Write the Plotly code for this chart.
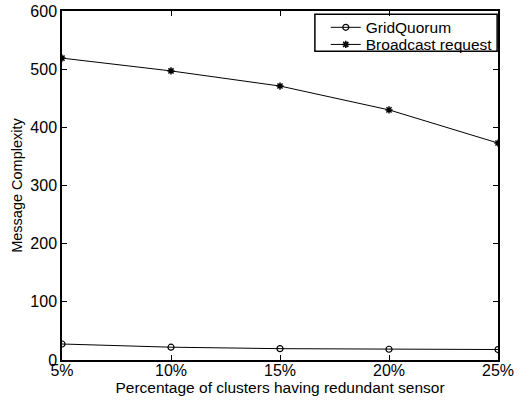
import plotly.graph_objects as go

x_vals = [5, 10, 15, 20, 25]
x_labels = ["5%", "10%", "15%", "20%", "25%"]
grid_quorum = [27.5, 22, 19.5, 18.5, 18]
broadcast = [519, 497, 471, 430, 373]
y_ticks = [0, 100, 200, 300, 400, 500, 600]

FONT = "Liberation Sans, Arial, sans-serif"

fig = go.Figure()
fig.add_trace(go.Scatter(
    x=x_vals, y=grid_quorum, name="GridQuorum", mode="lines+markers",
    line=dict(color="black", width=1),
    marker=dict(symbol="circle-open", size=6, color="black", line=dict(width=1.2, color="black")),
    legend="legend",
))
fig.add_trace(go.Scatter(
    x=x_vals, y=broadcast, name="Broadcast request", mode="lines+markers",
    line=dict(color="black", width=1),
    marker=dict(symbol="asterisk-open", size=6, color="black", line=dict(width=1.5, color="black")),
    legend="legend2",
))

axis_common = dict(
    showgrid=False, zeroline=False, showline=True, linecolor="black", linewidth=1.5,
    mirror="ticks", ticks="inside", ticklen=5, tickcolor="black", tickwidth=1,
    tickfont=dict(family=FONT, size=16, color="black"), automargin=False,
    ticklabeloverflow="allow",
)
fig.update_xaxes(
    range=[5, 25], tickvals=x_vals, ticktext=x_labels, ticklabelstandoff=-5,
    title=dict(text="Percentage of clusters having redundant sensor", standoff=0,
               font=dict(family=FONT, size=15.5, color="black")),
    **axis_common,
)
fig.update_yaxes(
    range=[0, 600], tickvals=y_ticks,
    title=dict(text="Message Complexity", standoff=4,
               font=dict(family=FONT, size=14.5, color="black")),
    **axis_common,
)

legend_common = dict(
    xanchor="left", yanchor="middle", borderwidth=0, bgcolor="rgba(0,0,0,0)",
    font=dict(family=FONT, size=15.5, color="black"), itemwidth=30,
)
fig.update_layout(
    width=530, height=403,
    margin=dict(l=62, r=32, t=11, b=43),
    paper_bgcolor="white", plot_bgcolor="white",
    font=dict(family=FONT, color="black"),
    showlegend=True,
    legend=dict(x=0.605, y=0.952, **legend_common),
    legend2=dict(x=0.605, y=0.903, **legend_common),
    shapes=[dict(
        type="rect", xref="paper", yref="paper",
        x0=0.580, x1=0.998, y0=0.885, y1=0.991,
        line=dict(color="black", width=1.5), fillcolor="rgba(0,0,0,0)", layer="above",
    )],
)
fig.write_html("out.html", config={"displayModeBar": False},
               post_script="document.body.style.margin='0';")
